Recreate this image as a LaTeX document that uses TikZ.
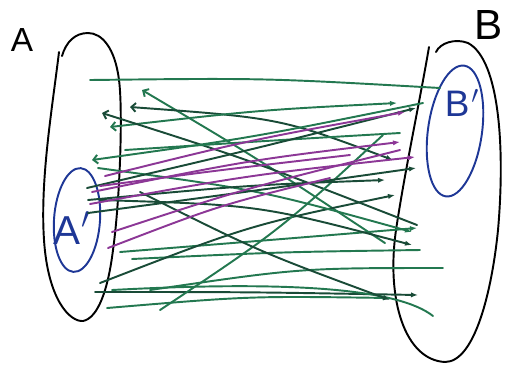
\documentclass[tikz,border=0pt]{standalone}
\usepackage{fontspec}
\setmainfont{Liberation Sans}
\usetikzlibrary{arrows.meta}
\definecolor{gline}{RGB}{35,120,80}
\definecolor{dline}{RGB}{25,75,55}
\definecolor{pline}{RGB}{140,55,150}
\definecolor{bink}{RGB}{30,55,150}
\tikzset{
  setline/.style={draw=black, line width=1.1pt, line cap=round},
  subset/.style={draw=bink, line width=1.1pt},
  gl/.style={draw=gline, line width=1.1pt, line cap=round},
  dl/.style={draw=dline, line width=1.1pt, line cap=round},
  pl/.style={draw=pline, line width=1.1pt, line cap=round},
  tipR/.style={-{Latex[length=4pt,width=3pt]}},
  tipL/.style={{Straight Barb[length=2.5pt,width=5pt]}-},
  tipLR/.style={{Straight Barb[length=2.5pt,width=5pt]}-{Latex[length=4pt,width=3pt]}},
  lbl/.style={font=\fontsize{19}{21}\selectfont},
}
\begin{document}
\begin{tikzpicture}[x=0.02cm,y=-0.02cm]
\useasboundingbox (0,0) rectangle (506,366);
% labels
\node[lbl] (la) at (22,40) {A};
\node[lbl, font=\fontsize{24}{26}\selectfont] (lb) at (489,25) {B};
% set A
\draw[setline] (59,52) .. controls (52,110) and (40,180) .. (44,240)
  .. controls (48,300) and (70,322) .. (83,321)
  .. controls (98,318) and (108,290) .. (113,250)
  .. controls (120,200) and (123,110) .. (119,80)
  .. controls (115,48) and (102,33) .. (88,33)
  .. controls (75,33) and (66,42) .. (62,56);
% set B
\draw[setline] (429,47) .. controls (420,100) and (405,170) .. (396,230)
  .. controls (386,300) and (405,360) .. (445,362)
  .. controls (475,362) and (492,290) .. (498,230)
  .. controls (505,150) and (500,60) .. (468,43)
  .. controls (455,38) and (440,43) .. (436,52);
% subsets
\draw[subset, rotate around={-4:(77,220)}] (77,220) ellipse [x radius=23, y radius=52];
\draw[subset, rotate around={-8:(455,131)}] (455,131) ellipse [x radius=27, y radius=66];
\node[lbl, text=bink, font=\fontsize{23}{25}\selectfont] (ap) at (72,228) {A\kern1pt$'$};
\node[lbl, text=bink, font=\fontsize{21}{23}\selectfont] (bp) at (462,103) {B\kern1pt$'$};
% green lines
\draw[gl] (90,80) .. controls (265,78) .. (440,88);
\draw[gl,tipL] (142,90) .. controls (260,160) .. (385,243);
\draw[dl,tipLR] (130,107) .. controls (280,118) .. (393,160);
\draw[gl,tipLR] (110,127) .. controls (260,110) .. (397,103);
\draw[dl,tipL] (102,113) .. controls (250,160) .. (417,225);
\draw[gl,tipL] (92,160) .. controls (250,138) .. (423,103);
\draw[gl] (125,150) .. controls (280,140) .. (400,133);
\draw[gl,tipR] (120,252) .. controls (270,240) .. (417,228);
\draw[gl] (132,259) .. controls (280,252) .. (420,250);
\draw[dl,tipR] (100,283) .. controls (250,225) .. (395,195);
\draw[dl,tipR] (95,292) .. controls (250,292) .. (418,295);
\draw[gl,tipR] (107,308) .. controls (250,296) .. (390,298);
\draw[gl] (112,290) .. controls (300,280) and (400,290) .. (433,316);
\draw[gl] (150,290) .. controls (300,268) .. (443,268);
\draw[gl] (160,310) .. controls (280,230) .. (383,135);
\draw[dl,tipR] (140,192) .. controls (260,252) .. (390,300);
\draw[gl,tipR] (98,168) .. controls (260,190) .. (412,232);
\draw[dl,tipR] (100,200) .. controls (260,205) .. (412,245);
% dark lines near A'
\draw[dl,tipR] (87,188) .. controls (250,150) .. (416,108);
\draw[dl,tipR] (88,213) .. controls (260,190) .. (416,168);
\draw[dl,tipR] (88,200) .. controls (250,185) .. (385,180);
% purple lines
\draw[pl,tipR] (105,176) .. controls (250,140) .. (405,112);
\draw[pl,tipR] (92,192) .. controls (250,160) .. (400,142);
\draw[pl,tipR] (90,204) .. controls (250,175) .. (415,157);
\draw[pl] (112,232) .. controls (240,190) .. (400,150);
\draw[pl] (108,248) .. controls (220,205) .. (330,178);
\draw[pl] (100,186) .. controls (220,170) .. (350,155);
\end{tikzpicture}
\end{document}
